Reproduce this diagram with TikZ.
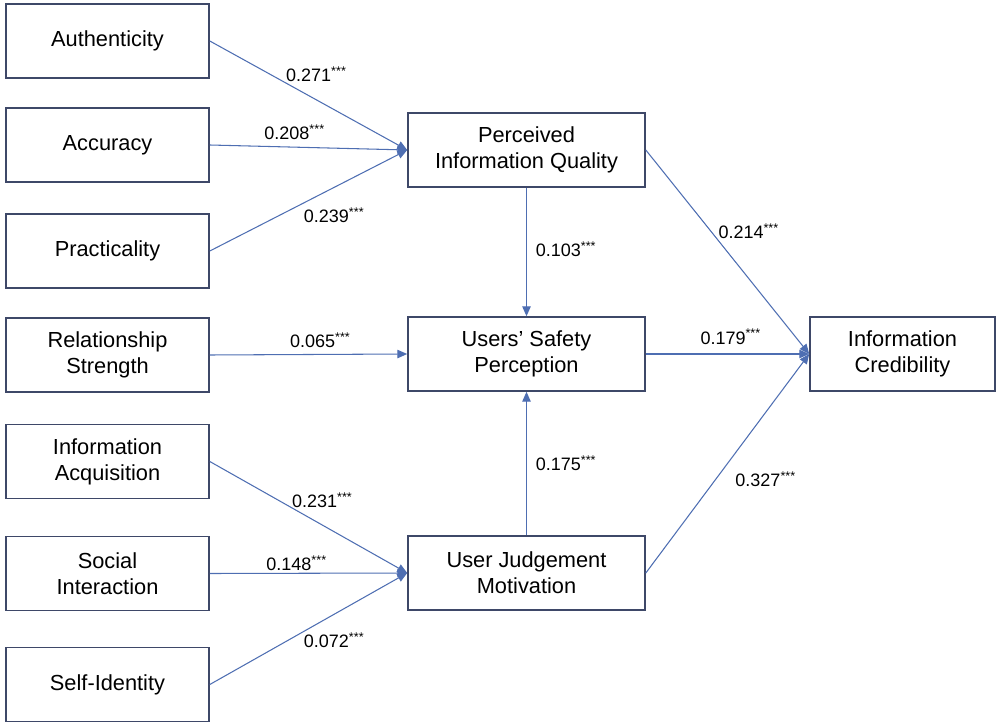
\documentclass[tikz,border=0pt]{standalone}
\usepackage{fontspec}
\setmainfont{Liberation Sans}
\usetikzlibrary{arrows.meta}

\definecolor{boxline}{RGB}{62,72,104}
\definecolor{linkblue}{RGB}{78,110,178}

\newcommand{\sig}{\textsuperscript{***}}

\tikzset{
  every path/.style={semithick},
  box/.style={draw=boxline, line width=1.1pt, align=center, inner sep=0pt,
    minimum height=1.85cm, font=\fontsize{15.5}{18.5}\selectfont},
  leftbox/.style={box, minimum width=5.075cm},
  midbox/.style={box, minimum width=5.925cm},
  link/.style={draw=linkblue, line width=0.75pt,
    -{Triangle[length=7pt,width=6pt,fill=linkblue]}},
  lbl/.style={inner sep=0pt, font=\fontsize{12.8}{15}\selectfont}
}

\begin{document}
\begin{tikzpicture}[x=0.025cm, y=-0.025cm]
    \useasboundingbox (0,0) rectangle (999,727);

    % determinants
    \node[leftbox] (auth) at (107.5,41) {Authenticity};
    \node[leftbox] (accu) at (107.5,145) {Accuracy};
    \node[leftbox] (prac) at (107.5,251) {Practicality};
    \node[leftbox] (rel) at (107.5,355) {Relationship\\Strength};
    \node[leftbox] (acq) at (107.5,461.5) {Information\\Acquisition};
    \node[leftbox] (soc) at (107.5,573.5) {Social\\Interaction};
    \node[leftbox] (self) at (107.5,684.5) {Self-Identity};

    % mediators
    \node[midbox] (piq) at (526.5,150) {Perceived\\Information Quality};
    \node[midbox] (usp) at (526.5,354) {Users' Safety\\Perception};
    \node[midbox] (ujm) at (526.5,573) {User Judgement\\Motivation};

    % outcome
    \node[box, minimum width=4.625cm] (ic) at (902.5,354) {Information\\Credibility};

    \draw[link] (auth.east) -- node[lbl, pos=.54, yshift=.63cm] {0.271\sig} (piq.west);
    \draw[link] (accu.east) -- node[lbl, pos=.43, yshift=.38cm] {0.208\sig} (piq.west);
    \draw[link] (prac.east) -- node[lbl, pos=.63, yshift=-.69cm] {0.239\sig} (piq.west);
    \draw[link] (rel.east) -- node[lbl, pos=.56, yshift=.35cm] {0.065\sig} (usp.west);
    \draw[link] (acq.east) -- node[lbl, pos=.57, yshift=.62cm] {0.231\sig} (ujm.west);
    \draw[link] (soc.east) -- node[lbl, pos=.44, yshift=.26cm] {0.148\sig} (ujm.west);
    \draw[link] (self.east) -- node[lbl, pos=.63, yshift=-.66cm] {0.072\sig} (ujm.west);

    \draw[link] (piq.south) -- node[lbl, pos=.48, xshift=.99cm] {0.103\sig} (usp.north);
    \draw[link] (ujm.north) -- node[lbl, pos=.5, xshift=.99cm] {0.175\sig} (usp.south);

    \draw[link] (piq.east) -- node[lbl, pos=.4, xshift=.94cm] {0.214\sig} (ic.west);
    \draw[link] (usp.east) -- node[lbl, pos=.52, yshift=.43cm] {0.179\sig} (ic.west);
    \draw[link] (ujm.east) -- node[lbl, pos=.43, xshift=1.24cm] {0.327\sig} (ic.west);
  \end{tikzpicture}
\end{document}
